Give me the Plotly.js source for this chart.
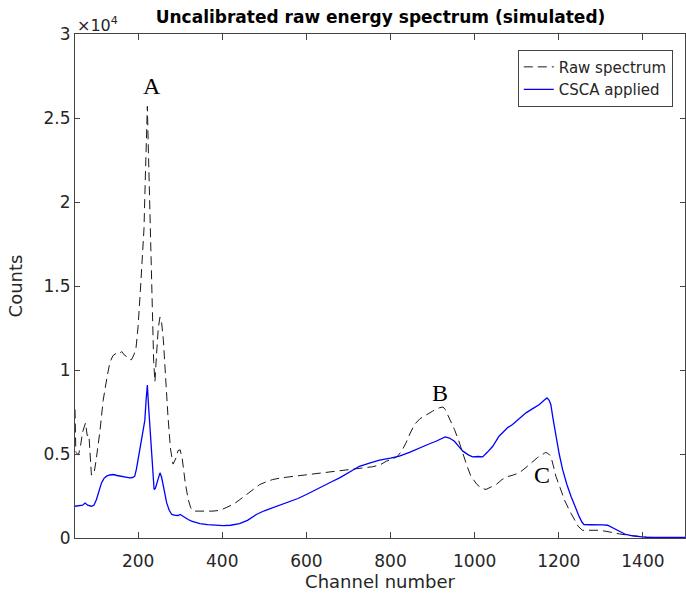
<!DOCTYPE html>
<html><head><meta charset="utf-8">
<script src="https://cdn.plot.ly/plotly-3.0.1.min.js"></script>
<style>html,body{margin:0;padding:0;background:#fff}#chart{width:686px;height:597px}</style>
</head><body><div id="chart"></div>
<script>
// Raw spectrum (dashed black)
const rawChannel = [50,52,58,62,68,75,79,83,89,95,100,109,117,121,127,133,140,148,155,161,167,173,179,184,190,195,200,206,210,214,217,220,222,224,226,228,231,234,237,240,244,248,252,256,260,265,271,277,283,289,295,300,305,312,319,325,331,345,360,378,395,410,426,440,457,473,489,505,520,540,560,580,600,620,639,660,679,700,726,757,775,790,805,817,827,837,847,857,870,885,900,916,925,930,940,952,962,971,981,991,1005,1017,1027,1040,1051,1065,1078,1092,1106,1122,1138,1150,1160,1169,1176,1181,1187,1193,1203,1213,1225,1236,1246,1256,1275,1296,1312,1328,1345,1359,1375,1391,1410,1450,1500];
const rawCounts = [7650,5100,4950,5300,6300,6850,6100,6150,3750,3800,4600,6300,8200,8850,9700,10450,10850,11000,10950,11100,10900,10800,10650,10600,10900,11300,12600,15000,16800,18400,21300,24000,25700,23500,21300,18400,15500,13500,10500,9300,11000,12500,13150,12800,11800,9500,7250,5300,4400,4700,5200,5250,4700,3300,2300,1800,1600,1600,1580,1600,1650,1800,2000,2250,2590,2900,3180,3350,3480,3580,3640,3720,3780,3850,3920,3980,4040,4100,4180,4240,4350,4570,4700,4870,5200,5670,6250,6760,7100,7350,7550,7750,7800,7650,7100,6460,5800,5070,4350,3680,3200,2950,2890,3050,3180,3480,3650,3750,3880,4200,4570,4800,4950,5100,5000,4870,4300,3680,3000,2290,1650,1100,700,460,450,460,400,310,240,190,140,100,40,20,20];
// CSCA applied (solid blue)
const cscaChannel = [50,60,68,74,80,89,95,101,107,113,119,125,133,141,150,161,170,180,187,192,196,200,206,212,216,219,222,225,228,232,235,238,241,246,252,256,260,264,268,274,280,288,295,300,306,312,319,327,335,347,365,385,402,420,441,460,481,500,520,540,560,580,600,620,639,660,679,699,726,750,774,800,821,845,869,890,908,920,930,940,952,962,972,985,995,1008,1019,1030,1043,1058,1078,1090,1106,1122,1138,1154,1165,1172,1177,1181,1187,1193,1201,1209,1219,1229,1238,1248,1255,1260,1275,1288,1305,1316,1326,1336,1347,1359,1375,1391,1410,1450,1500];
const cscaCounts = [1890,1900,1950,2080,1950,1890,1950,2290,2800,3280,3550,3680,3750,3780,3720,3680,3620,3580,3600,3680,4100,4670,5400,6260,7000,8200,9100,7800,6500,5270,3800,2890,2950,3400,3880,3600,3080,2600,2090,1650,1400,1350,1340,1400,1300,1180,1100,1000,940,860,800,760,740,760,860,1050,1400,1620,1800,1960,2130,2350,2590,2850,3120,3350,3580,3880,4270,4450,4630,4750,4870,5100,5370,5580,5760,5880,6020,5950,5760,5450,5170,4950,4830,4850,4830,5100,5460,6060,6560,6760,7100,7450,7700,7950,8200,8340,8200,7950,7000,6060,5000,4080,3200,2490,1900,1300,950,800,790,800,780,760,640,510,350,210,120,70,40,30,30];

const xTickVals = [200,400,600,800,1000,1200,1400];
const yTickVals = [0,5000,10000,15000,20000,25000,30000];
const yTickText = ['0','0.5','1','1.5','2','2.5','3'];
const peakLabels = ['A','B','C'];
const peakLabelX = [232,918,1161];
const peakLabelY = [26930,8640,3780];
const xRange = [50, 1500];

const FONT = 'DejaVu Sans, Arial, sans-serif';
const INK = '#262626';
const AXC = '#444';

const traces = [
  {x: rawChannel, y: rawCounts, type: 'scatter', mode: 'lines', name: 'Raw spectrum',
   line: {color: '#1a1a1a', width: 1, dash: '9px,5px'}},
  {x: cscaChannel, y: cscaCounts, type: 'scatter', mode: 'lines', name: 'CSCA applied',
   line: {color: '#0000ff', width: 1.3}},
  // empty helper trace so the tick-only overlay axis is built
  {x: [], y: [], type: 'scatter', mode: 'lines', xaxis: 'x2', yaxis: 'y', showlegend: false, hoverinfo: 'skip'}
];

const annotations = peakLabels.map((t, i) => ({
  x: peakLabelX[i], y: peakLabelY[i], xref: 'x', yref: 'y', text: t, showarrow: false,
  font: {family: 'Liberation Serif, Times New Roman, serif', size: 24, color: '#000'}
}));
annotations.push({
  xref: 'paper', yref: 'paper', x: 0, y: 1, xanchor: 'left', yanchor: 'bottom', yshift: -3,
  text: '×10<sup>4</sup>', showarrow: false, font: {family: FONT, size: 16, color: INK}
});

const layout = {
  width: 686, height: 597,
  margin: {l: 75, r: 1, t: 34, b: 59},
  paper_bgcolor: '#fff', plot_bgcolor: '#fff',
  showlegend: true,
  title: {text: 'Uncalibrated raw energy spectrum (simulated)', x: 0.5547, xanchor: 'center',
          y: 0.9715, yanchor: 'middle', font: {family: FONT, size: 17, color: '#000', weight: 'bold'}},
  // labelled x axis: invisible outside ticks push the labels down
  xaxis: {range: xRange, tickvals: xTickVals, ticks: 'outside', ticklen: 8, tickcolor: 'rgba(0,0,0,0)',
          showline: true, linecolor: AXC, linewidth: 1, mirror: true, showgrid: false, zeroline: false,
          tickfont: {family: FONT, size: 17, color: INK},
          title: {text: 'Channel number', font: {family: FONT, size: 18, color: INK}, standoff: 3}},
  // tick-only overlay axis: inside ticks at bottom and top
  xaxis2: {overlaying: 'x', anchor: 'y', side: 'bottom', range: xRange, tickvals: xTickVals,
           ticks: 'inside', ticklen: 6, tickcolor: AXC, mirror: 'ticks', showline: false,
           showticklabels: false, showgrid: false, zeroline: false},
  yaxis: {range: [0, 30000], tickvals: yTickVals, ticktext: yTickText, ticks: 'inside', ticklen: 5,
          tickcolor: AXC, showline: true, linecolor: AXC, linewidth: 1, mirror: 'ticks',
          showgrid: false, zeroline: false, tickfont: {family: FONT, size: 17, color: INK},
          title: {text: 'Counts', font: {family: FONT, size: 18, color: INK}, standoff: 16}},
  legend: {x: 0.98, y: 0.969, xanchor: 'right', yanchor: 'top', bgcolor: '#fff',
           bordercolor: AXC, borderwidth: 1, font: {family: FONT, size: 15, color: INK}},
  annotations: annotations
};

Plotly.newPlot('chart', traces, layout, {staticPlot: true, displayModeBar: false});
</script>
</body></html>
